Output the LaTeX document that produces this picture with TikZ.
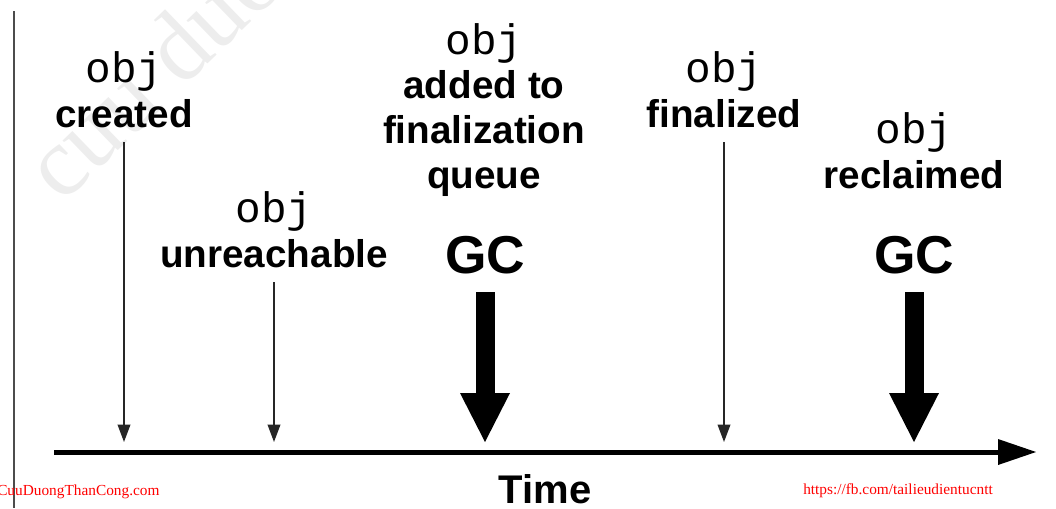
\documentclass[tikz,border=0pt]{standalone}
\usepackage{fontspec}
\setsansfont{Liberation Sans}
\setmonofont{Liberation Mono}
\newfontfamily\wmfont{Liberation Serif}
\usetikzlibrary{arrows.meta}
\newcommand\objtt{{\ttfamily\mdseries\fontsize{32}{33.5}\selectfont obj}}
\begin{document}
\begin{tikzpicture}[x=0.75pt,y=-0.75pt,
  event/.style={font=\sffamily\bfseries\fontsize{29}{33.5}\selectfont,align=center,inner sep=0pt,anchor=base},
  gclabel/.style={font=\sffamily\bfseries\fontsize{40}{40}\selectfont,inner sep=0pt,anchor=base},
  evarrow/.style={draw=black!85,line width=1.1pt,-{Triangle[length=13pt,width=9.5pt]},shorten <=11pt},
  gcarrow/.style={draw=black,line width=14.25pt,-{Triangle[length=36.75pt,width=37.5pt,line width=0pt]},shorten <=14pt},
  timeaxis/.style={draw=black,line width=3.75pt,-{Triangle[length=28.5pt,width=19.5pt,line width=0pt]}},
  wmark/.style={text=red,font=\wmfont\fontsize{11.5}{12}\selectfont,inner sep=0pt,anchor=base west}]
\useasboundingbox (0,0) rectangle (1056,508);
% faint background watermark
\node[text=black!7,font=\wmfont\fontsize{74}{74}\selectfont,rotate=44,anchor=base west,inner sep=0pt] at (62,205) {cuu duong than cong};
% left rule
\draw[black!70,line width=1.5pt] (14,11) -- (14,508);
% time axis
\coordinate (axstart) at (54,452);
\coordinate (axend) at (1036,452);
\draw[timeaxis] (axstart) -- (axend);
\node[gclabel,font=\sffamily\bfseries\fontsize{30}{30}\selectfont] (time) at (545,503) {Time};
% events (base = last line)
\node[event] (created) at (124,127) {\objtt\\created};
\node[event] (unreach) at (274,267) {\objtt\\unreachable};
\node[event] (queued) at (484,188) {\objtt\\added to\\finalization\\queue};
\node[event] (final) at (724,127) {\objtt\\finalized};
\node[event] (reclaim) at (914,188) {\objtt\\reclaimed};
\node[gclabel] (gcone) at (485,273) {GC};
\node[gclabel] (gctwo) at (914,273) {GC};
% arrow ends on the axis
\coordinate (tcreated) at (124,442);
\coordinate (tunreach) at (274,442);
\coordinate (tfinal) at (724,442);
\coordinate (tgcone) at (485,442);
\coordinate (tgctwo) at (914,442);
\draw[evarrow] (created) -- (tcreated);
\draw[evarrow] (unreach) -- (tunreach);
\draw[evarrow] (final) -- (tfinal);
\draw[gcarrow] (gcone) -- (tgcone);
\draw[gcarrow] (gctwo) -- (tgctwo);
% footer marks
\node[wmark] (wmleft) at (-3,495) {CuuDuongThanCong.com};
\node[wmark] (wmright) at (803,494) {https://fb.com/tailieudientucntt};
\end{tikzpicture}
\end{document}
